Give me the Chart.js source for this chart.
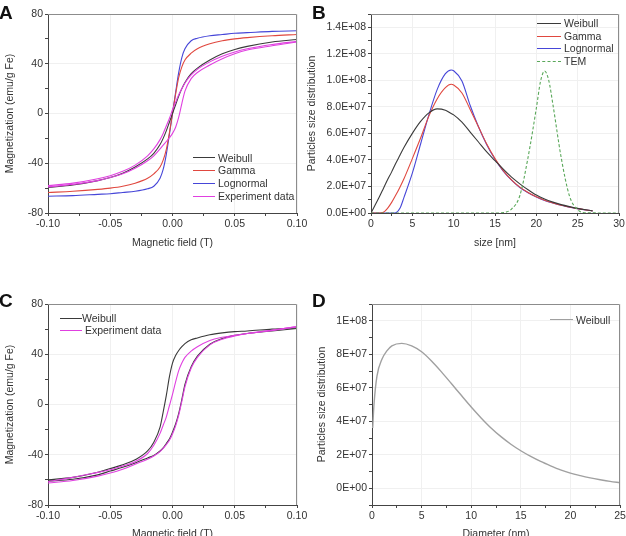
<!DOCTYPE html>
<html>
<head>
<meta charset="utf-8">
<script src="https://cdn.jsdelivr.net/npm/chart.js@4.4.1/dist/chart.umd.min.js"></script>
<style>
  body { margin: 0; width: 626px; height: 536px; overflow: hidden; background: #fff; position: relative;
         font-family: 'Liberation Sans', Arial, sans-serif; }
  canvas { position: absolute; }
  .tag { position: absolute; font-weight: bold; font-size: 19px; line-height: 19px; color: #111; }
  .legend { position: absolute; font-size: 10.5px; line-height: 12.7px; color: #333; }
  .legend div { display: flex; align-items: center; white-space: nowrap; }
  .legend span { display: inline-block; width: 22px; border-top: 1px solid; margin-right: 3px; }
</style>
</head>
<body>
<canvas id="chartA" width="313" height="268" style="left:0;top:0"></canvas>
<canvas id="chartB" width="326" height="268" style="left:300px;top:0"></canvas>
<canvas id="chartC" width="313" height="280" style="left:0;top:268px"></canvas>
<canvas id="chartD" width="326" height="280" style="left:300px;top:268px"></canvas>

<div class="tag" style="left:-1px;top:2.5px">A</div>
<div class="tag" style="left:312px;top:2.5px">B</div>
<div class="tag" style="left:-1px;top:290.5px">C</div>
<div class="tag" style="left:312px;top:290.5px">D</div>

<div class="legend" style="left:193px;top:151.6px">
  <div><span style="border-color:#3a3a3a"></span>Weibull</div>
  <div><span style="border-color:#e0483f"></span>Gamma</div>
  <div><span style="border-color:#4646d8"></span>Lognormal</div>
  <div><span style="border-color:#e040e0"></span>Experiment data</div>
</div>
<div class="legend" style="left:537px;top:17px">
  <div><span style="border-color:#3a3a3a;width:24px"></span>Weibull</div>
  <div><span style="border-color:#e0483f;width:24px"></span>Gamma</div>
  <div><span style="border-color:#4646d8;width:24px"></span>Lognormal</div>
  <div><span style="border-top:1px dashed #5aa85a;width:24px"></span>TEM</div>
</div>
<div class="legend" style="left:60px;top:311.7px">
  <div><span style="border-color:#3a3a3a;margin-right:0"></span>Weibull</div>
  <div><span style="border-color:#e040e0;margin-right:0"></span>&nbsp;Experiment data</div>
</div>
<div class="legend" style="left:550px;top:313.6px">
  <div><span style="border-color:#a0a0a0;width:23px"></span>Weibull</div>
</div>

<script>
// ---- A: magnetization curves of the three models vs experiment ----
const fieldA = [-0.1, -0.08, -0.06, -0.05, -0.04, -0.03, -0.02, -0.015, -0.01, -0.0075, -0.005, -0.0025, 0,
                0.0025, 0.005, 0.0075, 0.01, 0.015, 0.02, 0.03, 0.04, 0.05, 0.06, 0.08, 0.1];
const weibullA = [-59.5, -57.5, -54, -51.5, -48, -43, -36.5, -32, -25, -20, -14, -7, 0,
                  7, 14, 20, 25, 32, 36.5, 43, 48, 51.5, 54, 57.5, 59.5];
const gammaA = [-63.5, -62.5, -61, -60, -58.5, -56, -52, -48.5, -43, -37.5, -29, -15.5, 0,
                15.5, 29, 37.5, 43, 48.5, 52, 56, 58.5, 60, 61, 62.5, 63.5];
const lognormalA = [-66.5, -66, -65, -64.5, -63.5, -62.5, -60.5, -58.5, -52, -45, -33, -17, 0,
                    17, 33, 45, 52, 58.5, 60.5, 62.5, 63.5, 64.5, 65, 66, 66.5];
const expUpperA = [-58, -56, -52.5, -50, -46.5, -41.5, -34, -28.5, -21, -16, -10, -4, 3,
                   9, 15, 20, 24.5, 31, 35.5, 41.5, 46, 49.5, 52, 55.5, 58];
const expLowerA = [-59, -57, -54, -51.5, -48.5, -44, -38, -34, -28.5, -25.5, -22.5, -19.5, -16,
                   -11, -3, 8, 18, 28, 33, 39, 44, 48, 51, 54.5, 57.5];

// ---- B: size distributions ----
const sizeB = [0, 1, 1.5, 2, 2.5, 3, 3.5, 4, 5, 6, 7, 8, 9, 9.7, 10, 11, 12, 13, 14, 15, 16, 17, 18, 19,
               20, 21, 22, 23, 24, 25, 26, 26.8];
const weibullB = [0, 1.2e7, 1.85e7, 2.5e7, 3.1e7, 3.75e7, 4.35e7, 4.95e7, 6.0e7, 6.9e7, 7.55e7, 7.85e7, 7.75e7,
                  7.5e7, 7.4e7, 6.85e7, 6.1e7, 5.35e7, 4.6e7, 3.95e7, 3.3e7, 2.7e7, 2.2e7, 1.75e7,
                  1.35e7, 1.05e7, 0.82e7, 0.63e7, 0.48e7, 0.35e7, 0.24e7, 0.16e7];
const gammaB = [0, 0, 0.05e7, 0.35e7, 0.8e7, 1.35e7, 1.95e7, 2.6e7, 4.1e7, 5.65e7, 7.3e7, 8.6e7, 9.45e7,
                9.7e7, 9.65e7, 9.05e7, 7.8e7, 6.5e7, 5.2e7, 4.1e7, 3.2e7, 2.5e7, 1.95e7, 1.55e7,
                1.22e7, 0.96e7, 0.76e7, 0.58e7, 0.45e7, 0.33e7, 0.23e7, 0.16e7];
const lognormalB = [0, 0, 0, 0, 0, 0.02e7, 0.35e7, 1.2e7, 3.0e7, 5.2e7, 7.4e7, 9.3e7, 10.5e7,
                    10.78e7, 10.72e7, 9.95e7, 8.1e7, 6.5e7, 5.15e7, 4.05e7, 3.15e7, 2.47e7, 1.92e7, 1.52e7,
                    1.2e7, 0.95e7, 0.75e7, 0.58e7, 0.44e7, 0.33e7, 0.23e7, 0.16e7];
const sizeTEM = [0, 15, 16, 17, 18, 19, 20, 20.5, 21, 21.5, 22, 23, 24, 25, 26, 30];
const temB = [0, 0, 0.03e7, 0.3e7, 1.3e7, 4.2e7, 7.9e7, 9.9e7, 10.7e7, 10.0e7, 8.2e7, 4.2e7, 1.3e7, 0.25e7, 0.02e7, 0];

// ---- C: Weibull fit vs experiment, full loops ----
const fieldC = fieldA;
const weibullUpperC = [-60, -58, -54, -51, -48, -44, -37, -30, -18, -6, 7, 22, 33,
                       39, 43, 46, 48.5, 51.5, 53, 55.5, 57, 58, 58.5, 60, 61];
const weibullLowerC = [-61, -59.5, -56, -53, -50, -46.5, -42.5, -40.5, -37, -34.5, -31, -27.5, -22,
                       -15.5, -7, 4, 16, 30, 38.5, 48, 52.5, 55, 56.5, 58.5, 60.5];
const expUpperC = [-61.5, -58, -54, -52, -49, -45.5, -39, -32.5, -23, -16.5, -10, -1, 8,
                   18, 27, 33, 37.5, 42.5, 46, 51, 53.5, 55, 56.5, 59, 62];
const expLowerC = [-62.5, -60.5, -57, -54.5, -51.5, -47.5, -43.5, -41, -37.5, -35, -32, -28.5, -23.5,
                   -17, -8.5, 2.5, 14, 29, 37.5, 47.5, 52, 54.5, 56.5, 59, 62];

// ---- D: Weibull distribution vs diameter ----
const diameterD = [0.07, 0.2, 0.5, 1, 1.5, 2, 3, 4, 5, 6, 7, 8, 9, 10, 11, 12, 13, 14, 15, 16, 17, 18, 19,
                   20, 21, 22, 23, 24, 25];
const weibullD = [3.6e7, 5.0e7, 6.7e7, 7.7e7, 8.2e7, 8.5e7, 8.65e7, 8.5e7, 8.15e7, 7.6e7, 6.95e7, 6.25e7, 5.55e7,
                  4.85e7, 4.2e7, 3.6e7, 3.08e7, 2.63e7, 2.24e7, 1.9e7, 1.6e7, 1.34e7, 1.1e7,
                  0.9e7, 0.75e7, 0.62e7, 0.51e7, 0.41e7, 0.33e7];

const FONT = { family: "'Liberation Sans', Arial, sans-serif", size: 10.5 };
const TXT = '#333';

function isMajor(v, major) {
  const r = v / major;
  return Math.abs(r - Math.round(r)) < 1e-6;
}

// 1.4E+08 style labels
function sci(v, digits) {
  if (Math.abs(v) < 1) return (0).toFixed(digits) + 'E+00';
  const e = Math.floor(Math.log10(Math.abs(v)) + 1e-9);
  const m = v / Math.pow(10, e);
  return m.toFixed(digits) + 'E+' + String(e).padStart(2, '0');
}

function series(xs, ys, color, width, dash) {
  return {
    data: xs.map((x, i) => ({ x: x, y: ys[i] })),
    borderColor: color,
    borderWidth: width || 1.1,
    borderDash: dash || [],
    pointRadius: 0,
    fill: false,
    cubicInterpolationMode: 'monotone'
  };
}

function axis(o) {
  return {
    type: 'linear',
    min: o.min,
    max: o.max,
    afterFit: s => {
      if (s.isHorizontal()) s.height = o.size; else s.width = o.size;
      s.paddingLeft = s.paddingRight = s.paddingTop = s.paddingBottom = 0;
    },
    ticks: {
      stepSize: o.step, autoSkip: false, maxRotation: 0, padding: 2, color: TXT, font: FONT,
      callback: v => isMajor(v, o.major) ? o.fmt(v) : ''
    },
    grid: {
      tickLength: 3,
      color: c => (c.tick && isMajor(c.tick.value, o.major)) ? '#f0f0f0' : 'rgba(0,0,0,0)',
      tickColor: '#444'
    },
    border: { color: '#444' },
    title: { display: true, text: o.title, color: TXT, font: FONT, padding: o.titlePad }
  };
}

const frame = {
  id: 'frame',
  afterDraw(chart) {
    const { ctx, chartArea: a } = chart;
    ctx.save();
    ctx.strokeStyle = '#8c8c8c';
    ctx.lineWidth = 1;
    ctx.beginPath();
    ctx.moveTo(a.left, a.top + 0.5);
    ctx.lineTo(a.right - 0.5, a.top + 0.5);
    ctx.lineTo(a.right - 0.5, a.bottom);
    ctx.stroke();
    ctx.restore();
  }
};

function makeChart(id, padding, x, y, datasets) {
  return new Chart(document.getElementById(id), {
    type: 'line',
    data: { datasets: datasets },
    options: {
      responsive: false,
      animation: false,
      devicePixelRatio: 1,
      layout: { padding: padding },
      plugins: { legend: { display: false }, tooltip: { enabled: false } },
      scales: { x: axis(x), y: axis(y) }
    },
    plugins: [frame]
  });
}

const fieldX = { min: -0.1, max: 0.1, step: 0.025, major: 0.05, fmt: v => v.toFixed(2), title: 'Magnetic field (T)' };
const magY = { min: -80, max: 80, step: 20, major: 40, fmt: v => String(v), title: 'Magnetization (emu/g Fe)' };

makeChart('chartA', { top: 14, right: 16, left: 0, bottom: 0 },
  Object.assign({}, fieldX, { size: 55, titlePad: { top: 0, bottom: 18.7 } }),
  Object.assign({}, magY, { size: 48, titlePad: { top: 3.7, bottom: 0 } }),
  [
    series(fieldA, expUpperA, '#e040e0'),
    series(fieldA, expLowerA, '#e040e0'),
    series(fieldA, weibullA, '#3a3a3a'),
    series(fieldA, gammaA, '#e0483f'),
    series(fieldA, lognormalA, '#4646d8')
  ]);

makeChart('chartB', { top: 14, right: 7, left: 0, bottom: 0 },
  { min: 0, max: 30, step: 2.5, major: 5, fmt: v => String(v), title: 'size [nm]',
    size: 55, titlePad: { top: 0, bottom: 18.7 } },
  { min: 0, max: 1.5e8, step: 1e7, major: 2e7, fmt: v => sci(v, 1), title: 'Particles size distribution',
    size: 71, titlePad: { top: 5.7, bottom: 0 } },
  [
    series(sizeTEM, temB, '#5aa85a', 1.1, [3, 2]),
    series(sizeB, weibullB, '#3a3a3a'),
    series(sizeB, gammaB, '#e0483f'),
    series(sizeB, lognormalB, '#4646d8')
  ]);

makeChart('chartC', { top: 36, right: 16, left: 0, bottom: 0 },
  Object.assign({}, fieldX, { size: 43, titlePad: { top: 0, bottom: 7.7 } }),
  Object.assign({}, magY, { size: 48, titlePad: { top: 3.7, bottom: 0 } }),
  [
    series(fieldC, expUpperC, '#e040e0'),
    series(fieldC, expLowerC, '#e040e0'),
    series(fieldC, weibullUpperC, '#3a3a3a'),
    series(fieldC, weibullLowerC, '#3a3a3a')
  ]);

makeChart('chartD', { top: 36, right: 6, left: 0, bottom: 0 },
  { min: 0, max: 25, step: 2.5, major: 5, fmt: v => String(v), title: 'Diameter (nm)',
    size: 43, titlePad: { top: 0, bottom: 7.7 } },
  { min: -1e7, max: 1.1e8, step: 1e7, major: 2e7, fmt: v => sci(v, 0), title: 'Particles size distribution',
    size: 72, titlePad: { top: 15.7, bottom: 0 } },
  [
    series(diameterD, weibullD, '#a0a0a0', 1.4)
  ]);
</script>
</body>
</html>
